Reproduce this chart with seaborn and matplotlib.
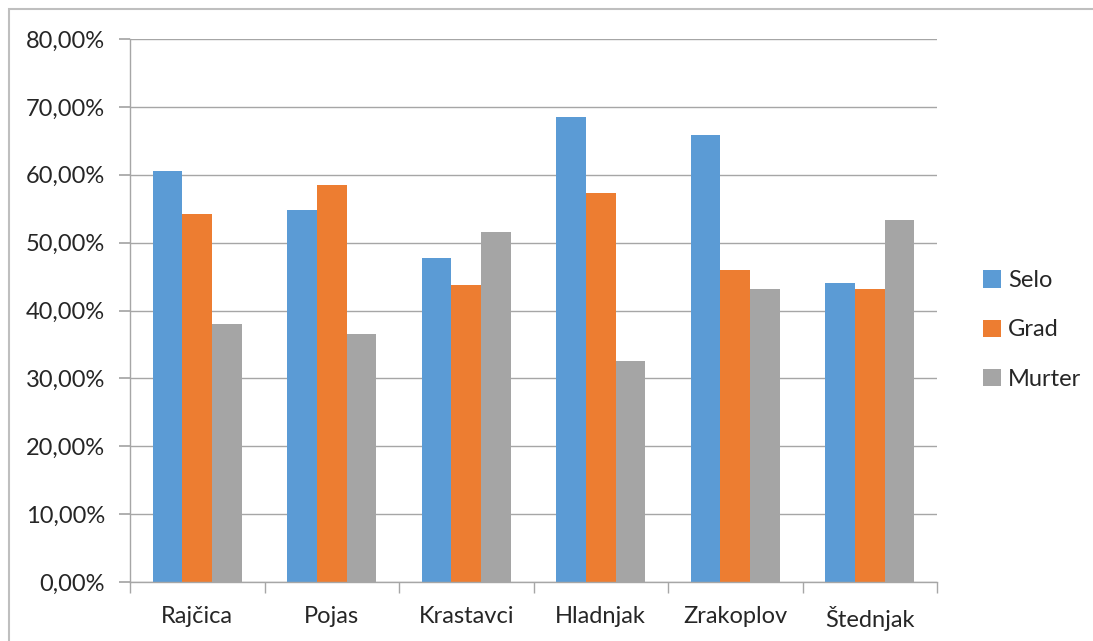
import numpy as np
import pandas as pd
import matplotlib
matplotlib.use("Agg")
import matplotlib.pyplot as plt
from matplotlib.ticker import FuncFormatter, FixedLocator
from matplotlib.patches import Rectangle
import seaborn as sns

categories = ["Rajčica", "Pojas", "Krastavci", "Hladnjak", "Zrakoplov", "Štednjak"]
series = ["Selo", "Grad", "Murter"]
selo = [60.6, 54.8, 47.7, 68.5, 65.8, 44.1]
grad = [54.2, 58.5, 43.8, 57.3, 46.0, 43.1]
murter = [38.0, 36.6, 51.6, 32.5, 43.1, 53.4]
colors = ["#5B9BD5", "#ED7D31", "#A5A5A5"]

df = pd.DataFrame({
    "kategorija": categories * 3,
    "serija": [s for s in series for _ in categories],
    "vrijednost": selo + grad + murter,
})

sns.set_theme(style="white")
plt.rcParams["font.family"] = ["Lato", "DejaVu Sans"]

fig = plt.figure(figsize=(10.93, 6.41), dpi=100)
ax = fig.add_axes([130 / 1093, 59 / 641, 807 / 1093, 543 / 641])

sns.barplot(data=df, x="kategorija", y="vrijednost", hue="serija",
            palette=colors, width=0.66, saturation=1, linewidth=0, ax=ax, legend=True)

ax.set_ylim(0, 80)
ax.set_xlim(-0.5, 5.5)
ax.yaxis.set_major_locator(FixedLocator(np.arange(0, 81, 10)))
ax.yaxis.set_major_formatter(FuncFormatter(lambda v, p: f"{v:.2f}%".replace(".", ",")))
ax.grid(axis="y", color="#A6A6A6", lw=1)
ax.set_axisbelow(True)
ax.set_xlabel("")
ax.set_ylabel("")

for s in ["top", "right"]:
    ax.spines[s].set_visible(False)
for s in ["left", "bottom"]:
    ax.spines[s].set_color("#A6A6A6")
    ax.spines[s].set_linewidth(1)

ax.tick_params(axis="y", length=8, color="#A6A6A6", labelsize=17, pad=10, left=True)
ax.tick_params(axis="x", length=0, labelsize=17, pad=17)
ax.set_xticks(np.arange(-0.5, 6, 1), minor=True)
ax.tick_params(axis="x", which="minor", length=8, color="#A6A6A6", bottom=True)

handles, labels = ax.get_legend_handles_labels()
ax.legend(handles, labels, loc="center left", bbox_to_anchor=(962 / 1093, 1 - 330 / 641),
          bbox_transform=fig.transFigure, frameon=False, fontsize=17,
          handlelength=0.75, handleheight=0.75, handletextpad=0.3, labelspacing=1.2)

fig.patches.append(Rectangle((9 / 1093, -0.01), 1.1, (641 - 9) / 641 + 0.01,
                             transform=fig.transFigure, fill=False,
                             edgecolor="#BFBFBF", lw=1.5))

fig.savefig("out.png", dpi=100)
